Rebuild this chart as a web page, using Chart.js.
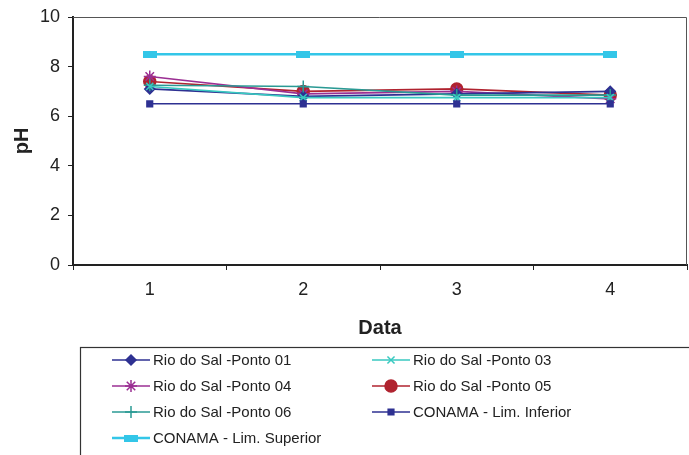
<!DOCTYPE html>
<html>
<head>
<meta charset="utf-8">
<script src="https://cdn.jsdelivr.net/npm/chart.js@4/dist/chart.umd.min.js"></script>
<style>
  html, body { margin: 0; padding: 0; background: #fff; }
  #wrap { width: 689px; height: 455px; position: relative; }
</style>
</head>
<body>
<div id="wrap"><canvas id="c" width="689" height="455"></canvas></div>
<script>
// ---------------- DATA ----------------
const categories = ['1', '2', '3', '4'];
const yTicks = [0, 2, 4, 6, 8, 10];

const ponto01 = [7.1, 6.8, 6.9, 7.0];
const ponto03 = [7.2, 6.75, 6.75, 6.75];
const ponto04 = [7.6, 6.9, 7.0, 6.7];
const ponto05 = [7.4, 7.0, 7.1, 6.85];
const ponto06 = [7.25, 7.2, 6.85, 6.85];
const limInferior = [6.5, 6.5, 6.5, 6.5];
const limSuperior = [8.5, 8.5, 8.5, 8.5];

const seriesNames = [
  'Rio do Sal -Ponto 01',
  'Rio do Sal -Ponto 03',
  'Rio do Sal -Ponto 04',
  'Rio do Sal -Ponto 05',
  'Rio do Sal -Ponto 06',
  'CONAMA - Lim. Inferior',
  'CONAMA - Lim. Superior'
];

const FONT = '"Liberation Sans", Arial, sans-serif';

// wide flat rectangle marker for Lim. Superior
function barMarker(w, h, color) {
  const cv = document.createElement('canvas');
  cv.width = w; cv.height = h;
  const g = cv.getContext('2d');
  g.fillStyle = color;
  g.fillRect(0, 0, w, h);
  return cv;
}

function ds(label, data, color, style, radius, width) {
  return {
    label, data,
    borderColor: color,
    backgroundColor: color,
    pointBackgroundColor: color,
    pointBorderColor: color,
    pointStyle: style,
    pointRadius: radius,
    pointBorderWidth: 1.5,
    borderWidth: width || 1.6,
    tension: 0
  };
}

const datasets = [
  ds(seriesNames[5], limInferior, '#2e3192', 'rect', 4, 1.6),
  ds(seriesNames[6], limSuperior, '#33c6e8', barMarker(14, 7, '#33c6e8'), 6, 2.6),
  ds(seriesNames[1], ponto03, '#38c9c0', 'crossRot', 5),
  ds(seriesNames[4], ponto06, '#2a9a94', 'cross', 6),
  ds(seriesNames[0], ponto01, '#2e3192', 'rectRot', 5),
  ds(seriesNames[2], ponto04, '#9b2f93', 'star', 6),
  ds(seriesNames[3], ponto05, '#b0232f', 'circle', 6)
];

// legend order as in the picture
const legendOrder = [4, 2, 5, 6, 3, 0, 1];

// ---------------- PLUGIN: frame + boxed legend ----------------
const framePlugin = {
  id: 'frameLegend',
  afterDraw(chart) {
    const ctx = chart.ctx;
    const a = chart.chartArea;
    ctx.save();
    // top and right plot border
    ctx.strokeStyle = '#555';
    ctx.lineWidth = 1;
    ctx.beginPath();
    ctx.moveTo(a.left, a.top + 0.5);
    ctx.lineTo(a.right - 0.5, a.top + 0.5);
    ctx.lineTo(a.right - 0.5, a.bottom);
    ctx.stroke();

    // legend box
    ctx.strokeStyle = '#333';
    ctx.lineWidth = 1.2;
    ctx.strokeRect(80.5, 347.5, 640, 130);

    ctx.font = '15px ' + FONT;
    ctx.textBaseline = 'middle';
    ctx.fillStyle = '#222';
    legendOrder.forEach((di, i) => {
      const d = chart.data.datasets[di];
      const col = i % 2, row = Math.floor(i / 2);
      const x0 = col === 0 ? 112 : 372;
      const y = 360 + row * 26;
      ctx.strokeStyle = d.borderColor;
      ctx.lineWidth = d.borderWidth;
      ctx.beginPath();
      ctx.moveTo(x0, y);
      ctx.lineTo(x0 + 38, y);
      ctx.stroke();
      ctx.lineWidth = d.pointBorderWidth;
      ctx.fillStyle = d.pointBackgroundColor;
      ctx.strokeStyle = d.pointBorderColor;
      Chart.helpers.drawPoint(ctx, {
        pointStyle: d.pointStyle,
        rotation: 0,
        radius: d.pointRadius,
        borderWidth: d.pointBorderWidth
      }, x0 + 19, y);
      ctx.fillStyle = '#222';
      ctx.fillText(d.label, x0 + 41, y + 1);
    });
    ctx.restore();
  }
};

// ---------------- CHART ----------------
new Chart(document.getElementById('c').getContext('2d'), {
  type: 'line',
  data: { labels: categories, datasets },
  options: {
    responsive: false,
    animation: false,
    layout: { autoPadding: false, padding: { left: 0, top: 17, right: 2, bottom: 110 } },
    plugins: {
      legend: { display: false },
      tooltip: { enabled: false }
    },
    scales: {
      x: {
        offset: true,
        grid: { offset: true, drawOnChartArea: false, drawTicks: true, tickLength: 5, color: '#222', lineWidth: 1 },
        border: { color: '#222', width: 2 },
        ticks: { color: '#222', font: { family: FONT, size: 18 }, padding: 9 },
        title: { display: true, text: 'Data', color: '#222', font: { family: FONT, size: 20, weight: 'bold' }, padding: { top: 4, bottom: 5 } },
        afterFit(scale) { scale.height = 80; scale.paddingLeft = 0; scale.paddingRight = 0; }
      },
      y: {
        min: 0, max: 10,
        afterBuildTicks(scale) { scale.ticks = yTicks.map(v => ({ value: v })); },
        grid: { drawOnChartArea: false, drawTicks: true, tickLength: 5, color: '#222', lineWidth: 1 },
        border: { color: '#222', width: 2 },
        ticks: { color: '#222', font: { family: FONT, size: 18 }, padding: 8 },
        title: { display: true, text: 'pH', color: '#222', font: { family: FONT, size: 20, weight: 'bold' }, padding: { top: 10, bottom: 0 } },
        afterFit(scale) { scale.width = 73; scale.paddingTop = 0; scale.paddingBottom = 0; }
      }
    }
  },
  plugins: [framePlugin]
});
</script>
</body>
</html>
